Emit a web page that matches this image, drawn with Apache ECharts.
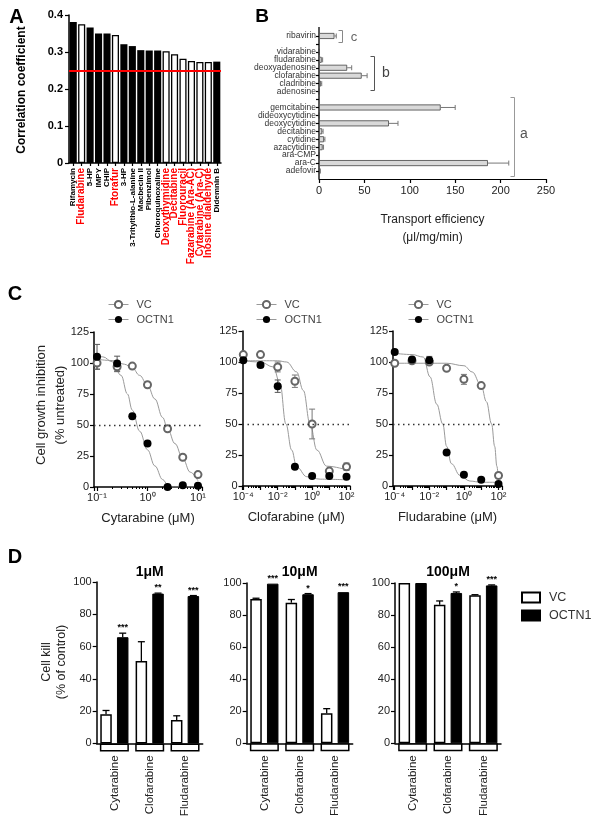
<!DOCTYPE html>
<html>
<head>
<meta charset="utf-8">
<title>OCTN1 nucleoside figure</title>
<script src="https://cdn.jsdelivr.net/npm/echarts@6.0.0/dist/echarts.min.js"></script>
<style>
html,body{margin:0;padding:0;background:#fff;}
#chart{width:612px;height:830px;}
</style>
</head>
<body>
<div id="chart"></div>
<script>
// ===== Panel A: correlation coefficients =====
const aCompounds = ['Rifamycin','Fludarabine','5-HP','IMPY','CHIP','Ftorafur','3-HP','3-Tritylthio-L-alanine','Macbecin II','Pibenzimol','Chloroquinoxaline','Deoxythymidine','Decitabine','Fluorouracil','Fazarabine (Ara-AC)','Cytarabine (Ara-C)','Inosine dialdehyde','Didemnin B'];
const aCorrelation = [0.381,0.375,0.366,0.350,0.350,0.346,0.321,0.316,0.305,0.304,0.304,0.302,0.294,0.282,0.276,0.273,0.273,0.274];
const aIsNucleoside = [0,1,0,0,0,1,0,0,0,0,0,1,1,1,1,1,1,0];
const aThreshold = 0.25;
const aYMax = 0.4, aYStep = 0.1;

// ===== Panel B: transport efficiency =====
const bSubstrates = ['ribavirin',' ','vidarabine','fludarabine','deoxyadenosine','clofarabine','cladribine','adenosine','  ','gemcitabine','dideoxycytidine','deoxycytidine','decitabine','cytidine','azacytidine','ara-CMP','ara-C','adefovir'];
const bEfficiency = [17,null,0,3,31,47,2,0,null,134,0,77,3.5,5.5,4,0,186,1];
const bError = [2,null,0,1,5,6,1,0,null,16,0,10,1,1,1,0,23,0.5];
const bXMax = 250, bXStep = 50;
const bGroups = ['c','b','a'];

// ===== Panel C: growth inhibition curves =====
const cTitles = ['Cytarabine (μM)','Clofarabine (μM)','Fludarabine (μM)'];
const cYMax = 125, cYStep = 25, cHalf = 50;
const cConcCyt = [0.1,0.25,0.5,1,2.5,5,10];
const cConcClo = [1e-4,1e-3,1e-2,0.1,1,10,100];
const cConcFlu = [1e-4,1e-3,1e-2,0.1,1,10,100];
const cCytVC = [100,97,97.5,82.5,47,24,10];
const cCytVCErr = [5,4,0,0,0,0,0];
const cCytOCTN1 = [105,99.5,57,35,0,1.4,1];
const cCytOCTN1Err = [10,6,0,0,0,0,0];
const cCloVC = [106,106,96,84.5,50,12,15.5];
const cCloVCErr = [0,0,4,5,12,0,3];
const cCloOCTN1 = [101.5,97.5,80.5,15.5,8,8,7.5];
const cCloOCTN1Err = [1,2,5,0,0,0,0];
const cFluVC = [99,101,100,95,86,81,8.5];
const cFluVCErr = [0,0,0,0,4,0,0];
const cFluOCTN1 = [108,102,101.5,27,9,5,1.6];
const cFluOCTN1Err = [0,0,3,0,0,0,0];
// fitted curves: [concentration, % untreated]
const cCytVCFit = [[0.1,103],[0.2,102],[0.35,99],[0.5,96],[0.7,90],[1,82],[1.4,71],[2,56],[2.5,47],[3.5,35],[5,23],[7,12],[10,5]];
const cCytOCTN1Fit = [[0.1,105],[0.13,105],[0.2,101],[0.3,90],[0.4,75],[0.5,62],[0.7,45],[1,30],[1.4,17],[2,6],[2.5,2],[3,0],[5,0],[10,0]];
const cCloVCFit = [[1e-4,101],[1e-2,101],[0.033,100],[0.126,92],[0.31,77],[0.76,50],[1.9,29],[7,16],[100,13]];
const cCloOCTN1Fit = [[1e-4,101],[1e-3,100],[0.0055,96],[0.0135,83],[0.03,50],[0.065,29],[0.126,15.5],[0.49,7.5],[3,5.5],[100,5]];
const cFluVCFit = [[1e-4,99],[1e-2,99],[0.1,99],[1,97],[3,92],[10,81],[20,68],[40,50],[60,32],[80,16],[100,4]];
const cFluOCTN1Fit = [[1e-4,107],[1e-3,106],[0.0045,104],[0.011,88],[0.027,66],[0.06,50],[0.1,32],[0.19,18],[0.6,8.5],[2.2,4],[10,3],[100,3]];

// ===== Panel D: cell kill =====
const dDrugs = ['Cytarabine','Clofarabine','Fludarabine'];
const dDoses = ['1μM','10μM','100μM'];
const dYMax = 100, dYStep = 20;
const dVC_1 = [18,51,14.5],        dVCErr_1 = [2.4,12,2.6];
const dOCTN1_1 = [65.8,92.8,91.3], dOCTN1Err_1 = [2.5,0.3,0.3];
const dStars_1 = ['***','**','***'];
const dVC_10 = [90,87.7,18.7],     dVCErr_10 = [0.5,2,2.9];
const dOCTN1_10 = [99.6,93,94.3],  dOCTN1Err_10 = [0,0.4,0];
const dStars_10 = ['***','*','***'];
const dVC_100 = [100,86.5,92.3],   dVCErr_100 = [0,2.3,0.4];
const dOCTN1_100 = [100,93.8,98.5],dOCTN1Err_100 = [0,0.6,0.3];
const dStars_100 = ['','*','***'];

// ===== styling helpers =====
const FONT = 'Arial, "Liberation Sans", Helvetica, sans-serif';
const axLine = w => ({show:true, onZero:false, lineStyle:{color:'#000', width:w}});
const tickOut = len => ({show:true, inside:false, length:len, lineStyle:{color:'#000', width:1.2}});
const noSplit = {show:false};
const SUP = {'-':'⁻','0':'⁰','1':'¹','2':'²','3':'³','4':'⁴','5':'⁵','6':'⁶','7':'⁷','8':'⁸','9':'⁹'};
const logLabel = step => v => {
  const e = Math.log10(v), r = Math.round(e);
  if (Math.abs(e - r) > 1e-6 || r % step !== 0) return '';
  return '10' + String(r).split('').map(c => SUP[c]).join('');
};

const grids = [];
const xAxes = [], yAxes = [], series = [];
// add a grid and its own x/y axes; returns the shared index
const addGrid = (g, xa, ya) => {
  const i = grids.length;
  grids.push(Object.assign({containLabel:false, outerBoundsMode:'none'}, g));
  xAxes.push(Object.assign({gridIndex:i}, xa));
  yAxes.push(Object.assign({gridIndex:i}, ya));
  return i;
};

// ---- A ----
const gA = addGrid({left:69, top:15, width:152, height:148},
  {type:'category',
   data: aCompounds.map((n,i) => ({value:n, textStyle:{color: aIsNucleoside[i] ? '#ff0000' : '#000', fontSize: aIsNucleoside[i] ? 10 : 8}})),
   axisLine: axLine(1.5), axisTick: Object.assign(tickOut(3), {alignWithLabel:true}),
   axisLabel:{interval:0, rotate:90, margin:5, fontWeight:'bold', fontFamily:FONT}, splitLine:noSplit},
  {type:'value', min:0, max:aYMax, interval:aYStep,
   axisLine: axLine(1.5), axisTick: tickOut(4), splitLine:noSplit,
   axisLabel:{fontSize:11, fontWeight:'bold', color:'#000', margin:6, fontFamily:FONT,
     formatter: v => v === 0 ? '0' : v.toFixed(1)}});
series.push({type:'bar', xAxisIndex:gA, yAxisIndex:gA, barCategoryGap:'16%', silent:true,
  data: aCorrelation.map((v,i) => ({value:v, itemStyle: aIsNucleoside[i] ? {color:'#fff', borderColor:'#000', borderWidth:1.3} : {color:'#000'}})),
  markLine:{silent:true, symbol:['none','none'], label:{show:false}, animation:false,
    lineStyle:{color:'#ff0000', width:2, type:'solid'}, data:[{yAxis:aThreshold}]}});

// ---- B ----
const gB = addGrid({left:319, top:32, width:227, height:143},
  {type:'value', min:0, max:bXMax, interval:bXStep, offset:4,
   axisLine: axLine(1.2), axisTick: tickOut(4), splitLine:noSplit,
   axisLabel:{fontSize:11, color:'#222', margin:6, fontFamily:FONT},
   name:'Transport efficiency\n(μl/mg/min)', nameLocation:'middle', nameGap:32,
   nameTextStyle:{fontSize:12, lineHeight:18, color:'#222', fontFamily:FONT}},
  {type:'category', data:bSubstrates, inverse:true,
   axisLine:{show:false}, axisTick: Object.assign(tickOut(3), {alignWithLabel:true}), splitLine:noSplit,
   axisLabel:{interval:0, fontSize:8.5, color:'#333', margin:3, fontFamily:FONT}});
series.push({type:'bar', xAxisIndex:gB, yAxisIndex:gB, barWidth:6, silent:true,
  itemStyle:{color:'#d9d9d9', borderColor:'#444', borderWidth:0.8}, data:bEfficiency});
series.push({type:'custom', xAxisIndex:gB, yAxisIndex:gB, silent:true, z:4,
  data: bEfficiency.map((v,i) => [v, i, bError[i]]), encode:{x:0, y:1},
  renderItem:(params, api) => {
    const v = api.value(0), e = api.value(2);
    if (isNaN(v) || !(e > 0)) return null;
    const p1 = api.coord([v, api.value(1)]);
    const p2 = api.coord([v + e, api.value(1)]);
    const st = {stroke:'#777', lineWidth:1};
    return {type:'group', children:[
      {type:'line', shape:{x1:p1[0], y1:p1[1], x2:p2[0], y2:p2[1]}, style:st},
      {type:'line', shape:{x1:p2[0], y1:p2[1]-2.5, x2:p2[0], y2:p2[1]+2.5}, style:st}]};
  }});

// ---- C ----
const cPanels = [
  {grid:{left:94, top:332, width:108, height:155}, conc:cConcCyt, vc:cCytVC, vcErr:cCytVCErr, oc:cCytOCTN1, ocErr:cCytOCTN1Err, vcFit:cCytVCFit, ocFit:cCytOCTN1Fit, min:0.0871, max:12.02, step:1},
  {grid:{left:242.5, top:331, width:107.5, height:155}, conc:cConcClo, vc:cCloVC, vcErr:cCloVCErr, oc:cCloOCTN1, ocErr:cCloOCTN1Err, vcFit:cCloVCFit, ocFit:cCloOCTN1Fit, min:8.98e-5, max:159.6, step:2},
  {grid:{left:393, top:331, width:109, height:155}, conc:cConcFlu, vc:cFluVC, vcErr:cFluVCErr, oc:cFluOCTN1, ocErr:cFluOCTN1Err, vcFit:cFluVCFit, ocFit:cFluOCTN1Fit, min:7.97e-5, max:159, step:2}
];
const cErrRender = color => (params, api) => {
  const x = api.value(0), y = api.value(1), e = api.value(2);
  if (!(e > 0)) return null;
  const lo = api.coord([x, y - e]), hi = api.coord([x, y + e]);
  const st = {stroke:color, lineWidth:1};
  return {type:'group', children:[
    {type:'line', shape:{x1:lo[0], y1:lo[1], x2:hi[0], y2:hi[1]}, style:st},
    {type:'line', shape:{x1:lo[0]-3, y1:lo[1], x2:lo[0]+3, y2:lo[1]}, style:st},
    {type:'line', shape:{x1:hi[0]-3, y1:hi[1], x2:hi[0]+3, y2:hi[1]}, style:st}]};
};
cPanels.forEach((p, k) => {
  const gi = addGrid(p.grid,
    {type:'log', logBase:10, min:p.min, max:p.max,
     axisLine: axLine(1.5), axisTick: tickOut(4), splitLine:noSplit,
     minorTick:{show:true, splitNumber:9, length:2, lineStyle:{color:'#000', width:1}}, minorSplitLine:{show:false},
     axisLabel:{fontSize:11, color:'#222', margin:5, fontFamily:FONT, formatter: logLabel(p.step)},
     name:cTitles[k], nameLocation:'middle', nameGap:25,
     nameTextStyle:{fontSize:13, color:'#222', fontFamily:FONT}},
    {type:'value', min:0, max:cYMax, interval:cYStep,
     axisLine: axLine(1.5), axisTick: tickOut(4), splitLine:noSplit,
     axisLabel:{fontSize:11, color:'#222', margin:5, fontFamily:FONT}});
  const fitStyle = {color:'#9a9a9a', width:1};
  series.push({type:'line', name:'fit', xAxisIndex:gi, yAxisIndex:gi, data:p.vcFit, smooth:0.4, smoothMonotone:'x',
    showSymbol:false, symbol:'none', lineStyle:fitStyle, itemStyle:{color:'#9a9a9a'}, silent:true, z:2,
    markLine:{silent:true, symbol:['none','none'], label:{show:false}, animation:false,
      lineStyle:{color:'#333', width:1.3, type:[1.5,3.5]}, data:[{yAxis:cHalf}]}});
  series.push({type:'line', name:'fit', xAxisIndex:gi, yAxisIndex:gi, data:p.ocFit, smooth:0.4, smoothMonotone:'x',
    showSymbol:false, symbol:'none', lineStyle:fitStyle, itemStyle:{color:'#9a9a9a'}, silent:true, z:2});
  series.push({type:'custom', xAxisIndex:gi, yAxisIndex:gi, silent:true, z:3, encode:{x:0, y:1},
    data: p.conc.map((c,i) => [c, p.vc[i], p.vcErr[i]]), renderItem: cErrRender('#777')});
  series.push({type:'custom', xAxisIndex:gi, yAxisIndex:gi, silent:true, z:3, encode:{x:0, y:1},
    data: p.conc.map((c,i) => [c, p.oc[i], p.ocErr[i]]), renderItem: cErrRender('#555')});
  series.push({type:'line', name:'VC', xAxisIndex:gi, yAxisIndex:gi, z:4, silent:true,
    data: p.conc.map((c,i) => [c, p.vc[i]]), symbol:'emptyCircle', symbolSize:7, showSymbol:true,
    itemStyle:{color:'#666', borderWidth:1.1}, lineStyle:{width:0}});
  series.push({type:'line', name:'OCTN1', xAxisIndex:gi, yAxisIndex:gi, z:5, silent:true,
    data: p.conc.map((c,i) => [c, p.oc[i]]), symbol:'circle', symbolSize:8, showSymbol:true,
    itemStyle:{color:'#000'}, lineStyle:{width:0}});
});

// ---- D ----
const D_BAR = 11.5, D_GAP = 0.45;
const D_OFFSET = (D_BAR + D_BAR * D_GAP) / 2;
const dPanels = [
  {grid:{left:96.7, top:582, width:106, height:161.4}, box:{left:96.7, top:743.4, width:106, height:8},
   vc:dVC_1, vcErr:dVCErr_1, oc:dOCTN1_1, ocErr:dOCTN1Err_1, stars:dStars_1},
  {grid:{left:246.7, top:583, width:106, height:160.3}, box:{left:246.7, top:743.3, width:106, height:8},
   vc:dVC_10, vcErr:dVCErr_10, oc:dOCTN1_10, ocErr:dOCTN1Err_10, stars:dStars_10},
  {grid:{left:395, top:583, width:106, height:160.3}, box:{left:395, top:743.3, width:106, height:8},
   vc:dVC_100, vcErr:dVCErr_100, oc:dOCTN1_100, ocErr:dOCTN1Err_100, stars:dStars_100}
];
const dErrSeries = (gi, means, errs, stars, sign) => ({
  type:'custom', xAxisIndex:gi, yAxisIndex:gi, silent:true, z:5, clip:false,
  data: means.map((m,i) => [i, m, errs[i]]), encode:{x:0, y:1},
  renderItem:(params, api) => {
    const i = params.dataIndex;
    const base = api.coord([api.value(0), api.value(1)]);
    const top = api.coord([api.value(0), api.value(1) + api.value(2)]);
    const x = base[0] + sign * D_OFFSET;
    const st = {stroke:'#000', lineWidth:1.3};
    const ch = [];
    if (api.value(2) > 0) {
      ch.push({type:'line', shape:{x1:x, y1:base[1], x2:x, y2:top[1]}, style:st});
      ch.push({type:'line', shape:{x1:x-3.5, y1:top[1], x2:x+3.5, y2:top[1]}, style:st});
    }
    if (stars && stars[i]) {
      ch.push({type:'text', x:x, y:top[1] - 1, style:{text:stars[i], fill:'#000', font:'bold 9px ' + FONT,
        align:'center', verticalAlign:'bottom', textAlign:'center', textVerticalAlign:'bottom'}});
    }
    return {type:'group', children:ch};
  }});
dPanels.forEach((p) => {
  const gi = addGrid(p.grid,
    {type:'category', data:dDrugs, axisLine: axLine(1.5), axisTick:{show:false}, axisLabel:{show:false}, splitLine:noSplit},
    {type:'value', min:0, max:dYMax, interval:dYStep,
     axisLine: axLine(1.5), axisTick: tickOut(4), splitLine:noSplit,
     axisLabel:{fontSize:11, color:'#222', margin:5, fontFamily:FONT}});
  const bi = addGrid(p.box,
    {type:'category', data:dDrugs, axisLine:{show:false}, axisTick:{show:false}, splitLine:noSplit,
     axisLabel:{interval:0, rotate:90, margin:4, fontSize:11.5, color:'#222', fontFamily:FONT}},
    {type:'value', min:0, max:1, show:false});
  series.push({type:'bar', name:'D-VC', xAxisIndex:gi, yAxisIndex:gi, barWidth:D_BAR, barGap:(D_GAP*100)+'%', silent:true,
    itemStyle:{color:'#fff', borderColor:'#000', borderWidth:1.5}, data:p.vc});
  series.push({type:'bar', name:'D-OCTN1', xAxisIndex:gi, yAxisIndex:gi, barWidth:D_BAR, barGap:(D_GAP*100)+'%', silent:true,
    itemStyle:{color:'#000', borderColor:'#000', borderWidth:1}, data:p.oc});
  series.push(dErrSeries(gi, p.vc, p.vcErr, null, -1));
  series.push(dErrSeries(gi, p.oc, p.ocErr, p.stars, 1));
  series.push({type:'bar', name:'box', xAxisIndex:bi, yAxisIndex:bi, barWidth:29, silent:true,
    itemStyle:{color:'#fff', borderColor:'#000', borderWidth:1.5}, data: dDrugs.map(() => 1)});
});

// ---- legends ----
const cLegend = left => ({data:['VC','OCTN1'], orient:'vertical', left:left, top:294, itemWidth:20, itemHeight:9, itemGap:4,
  selectedMode:false, textStyle:{fontSize:11, color:'#444', fontFamily:FONT, padding:[0,0,0,3]},
  lineStyle:{width:1, color:'#999', opacity:1}});
const legends = [cLegend(103), cLegend(251), cLegend(403),
  {data:['D-VC','D-OCTN1'], formatter: n => n.slice(2), orient:'vertical', left:516, top:586, icon:'rect',
   itemWidth:18, itemHeight:10, itemGap:5, selectedMode:false,
   textStyle:{fontSize:12.5, color:'#333', fontFamily:FONT, padding:[0,0,0,4]}}];

// ---- decorations: panel letters, titles, brackets ----
const T = (x, y, text, font, opt) => {
  opt = opt || {};
  return {type:'text', x:x, y:y, rotation: opt.rot || 0, silent:true,
    style:{text:text, font:font, fill: opt.fill || '#000', align: opt.align || 'center', verticalAlign:'middle',
      textAlign: opt.align || 'center', textVerticalAlign:'middle'}};
};
const R = Math.PI / 2;
const poly = (pts, color) => ({type:'polyline', silent:true, shape:{points:pts}, style:{stroke:color, lineWidth:1, fill:null}});
const dCenters = [149.7, 299.7, 448];
const graphic = [
  T(16.5, 17.5, 'A', 'bold 20px ' + FONT),
  T(262, 17, 'B', 'bold 19px ' + FONT),
  T(15, 294, 'C', 'bold 20px ' + FONT),
  T(15, 557, 'D', 'bold 20px ' + FONT),
  T(22, 90, 'Correlation coefficient', 'bold 12px ' + FONT, {rot:R}),
  T(41.5, 405, 'Cell growth inhibition', '13px ' + FONT, {rot:R, fill:'#222'}),
  T(60, 405, '(% untreated)', '13px ' + FONT, {rot:R, fill:'#222'}),
  T(46.5, 662, 'Cell kill', '12.5px ' + FONT, {rot:R, fill:'#222'}),
  T(61.5, 662, '(% of control)', '12.5px ' + FONT, {rot:R, fill:'#222'}),
  {type:'line', silent:true, shape:{x1:319, y1:27, x2:319, y2:179}, style:{stroke:'#000', lineWidth:1.3}},
  poly([[338.5,30.5],[342.5,30.5],[342.5,42.5],[338.5,42.5]], '#888'),
  poly([[370.5,56.5],[374.5,56.5],[374.5,90.5],[370.5,90.5]], '#555'),
  poly([[510.5,97.5],[514.5,97.5],[514.5,176.5],[510.5,176.5]], '#999'),
  T(354, 37, bGroups[0], '13px ' + FONT, {fill:'#666'}),
  T(386, 73, bGroups[1], '14px ' + FONT, {fill:'#444'}),
  T(524, 134, bGroups[2], '14px ' + FONT, {fill:'#555'})
].concat(dDoses.map((t, k) => T(dCenters[k], 572, t, 'bold 14px ' + FONT)));

const chart = echarts.init(document.getElementById('chart'), null, {renderer:'canvas', width:612, height:830});
chart.setOption({
  animation:false,
  backgroundColor:'#fff',
  textStyle:{fontFamily:FONT},
  grid:grids, xAxis:xAxes, yAxis:yAxes, series:series,
  legend:legends, graphic:graphic
});
</script>
</body>
</html>
